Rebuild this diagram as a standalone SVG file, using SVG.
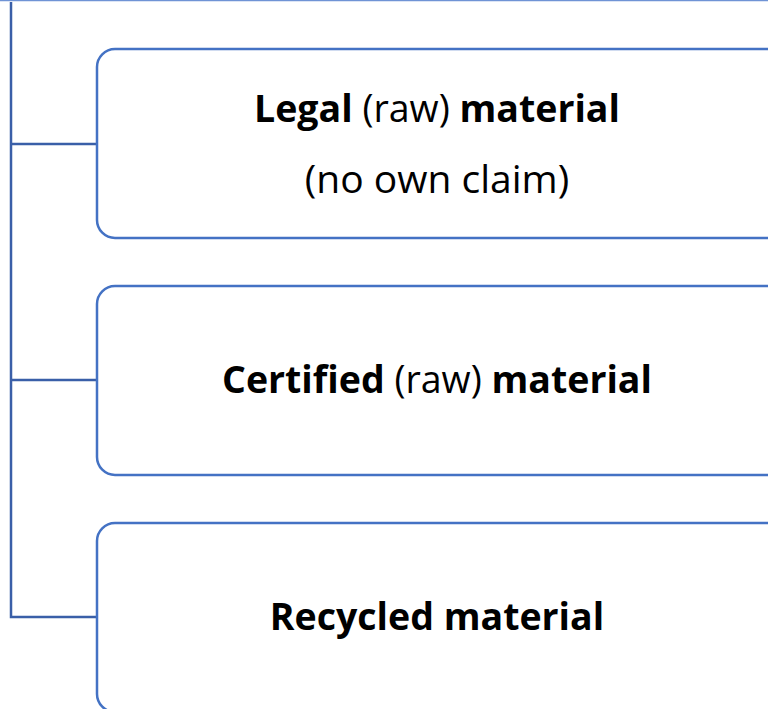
<svg xmlns="http://www.w3.org/2000/svg" width="768" height="709" viewBox="0 0 768 709">
<style>
.box{fill:#fff;stroke:#4472C4;stroke-width:2.5}
.conn{fill:none;stroke:#3A5FA8;stroke-width:2.5}
text{font-family:"Open Sans","Liberation Sans",sans-serif;font-size:37.5px;fill:#000;text-anchor:middle}
.b{font-weight:bold}
</style>
<rect width="768" height="709" fill="#fff"/>
<g id="connectors">
<line x1="0" y1="0.5" x2="768" y2="0.5" stroke="#6F93D5" stroke-width="1.5"/>
<path class="conn" d="M11,2 V617 H97 M11,144 H97 M11,380 H97"/>
</g>
<g id="node-legal">
<rect class="box" x="97" y="49" width="690" height="189" rx="18"/>
<text x="437" y="122"><tspan class="b">Legal</tspan> (raw) <tspan class="b">material</tspan></text>
<text x="437" y="193" style="font-size:39px">(no own claim)</text>
</g>
<g id="node-certified">
<rect class="box" x="97" y="286" width="690" height="189" rx="18"/>
<text x="437" y="393"><tspan class="b">Certified</tspan> (raw) <tspan class="b">material</tspan></text>
</g>
<g id="node-recycled">
<rect class="box" x="97" y="523" width="690" height="189" rx="18"/>
<text x="437" y="630" class="b">Recycled material</text>
</g>
</svg>
